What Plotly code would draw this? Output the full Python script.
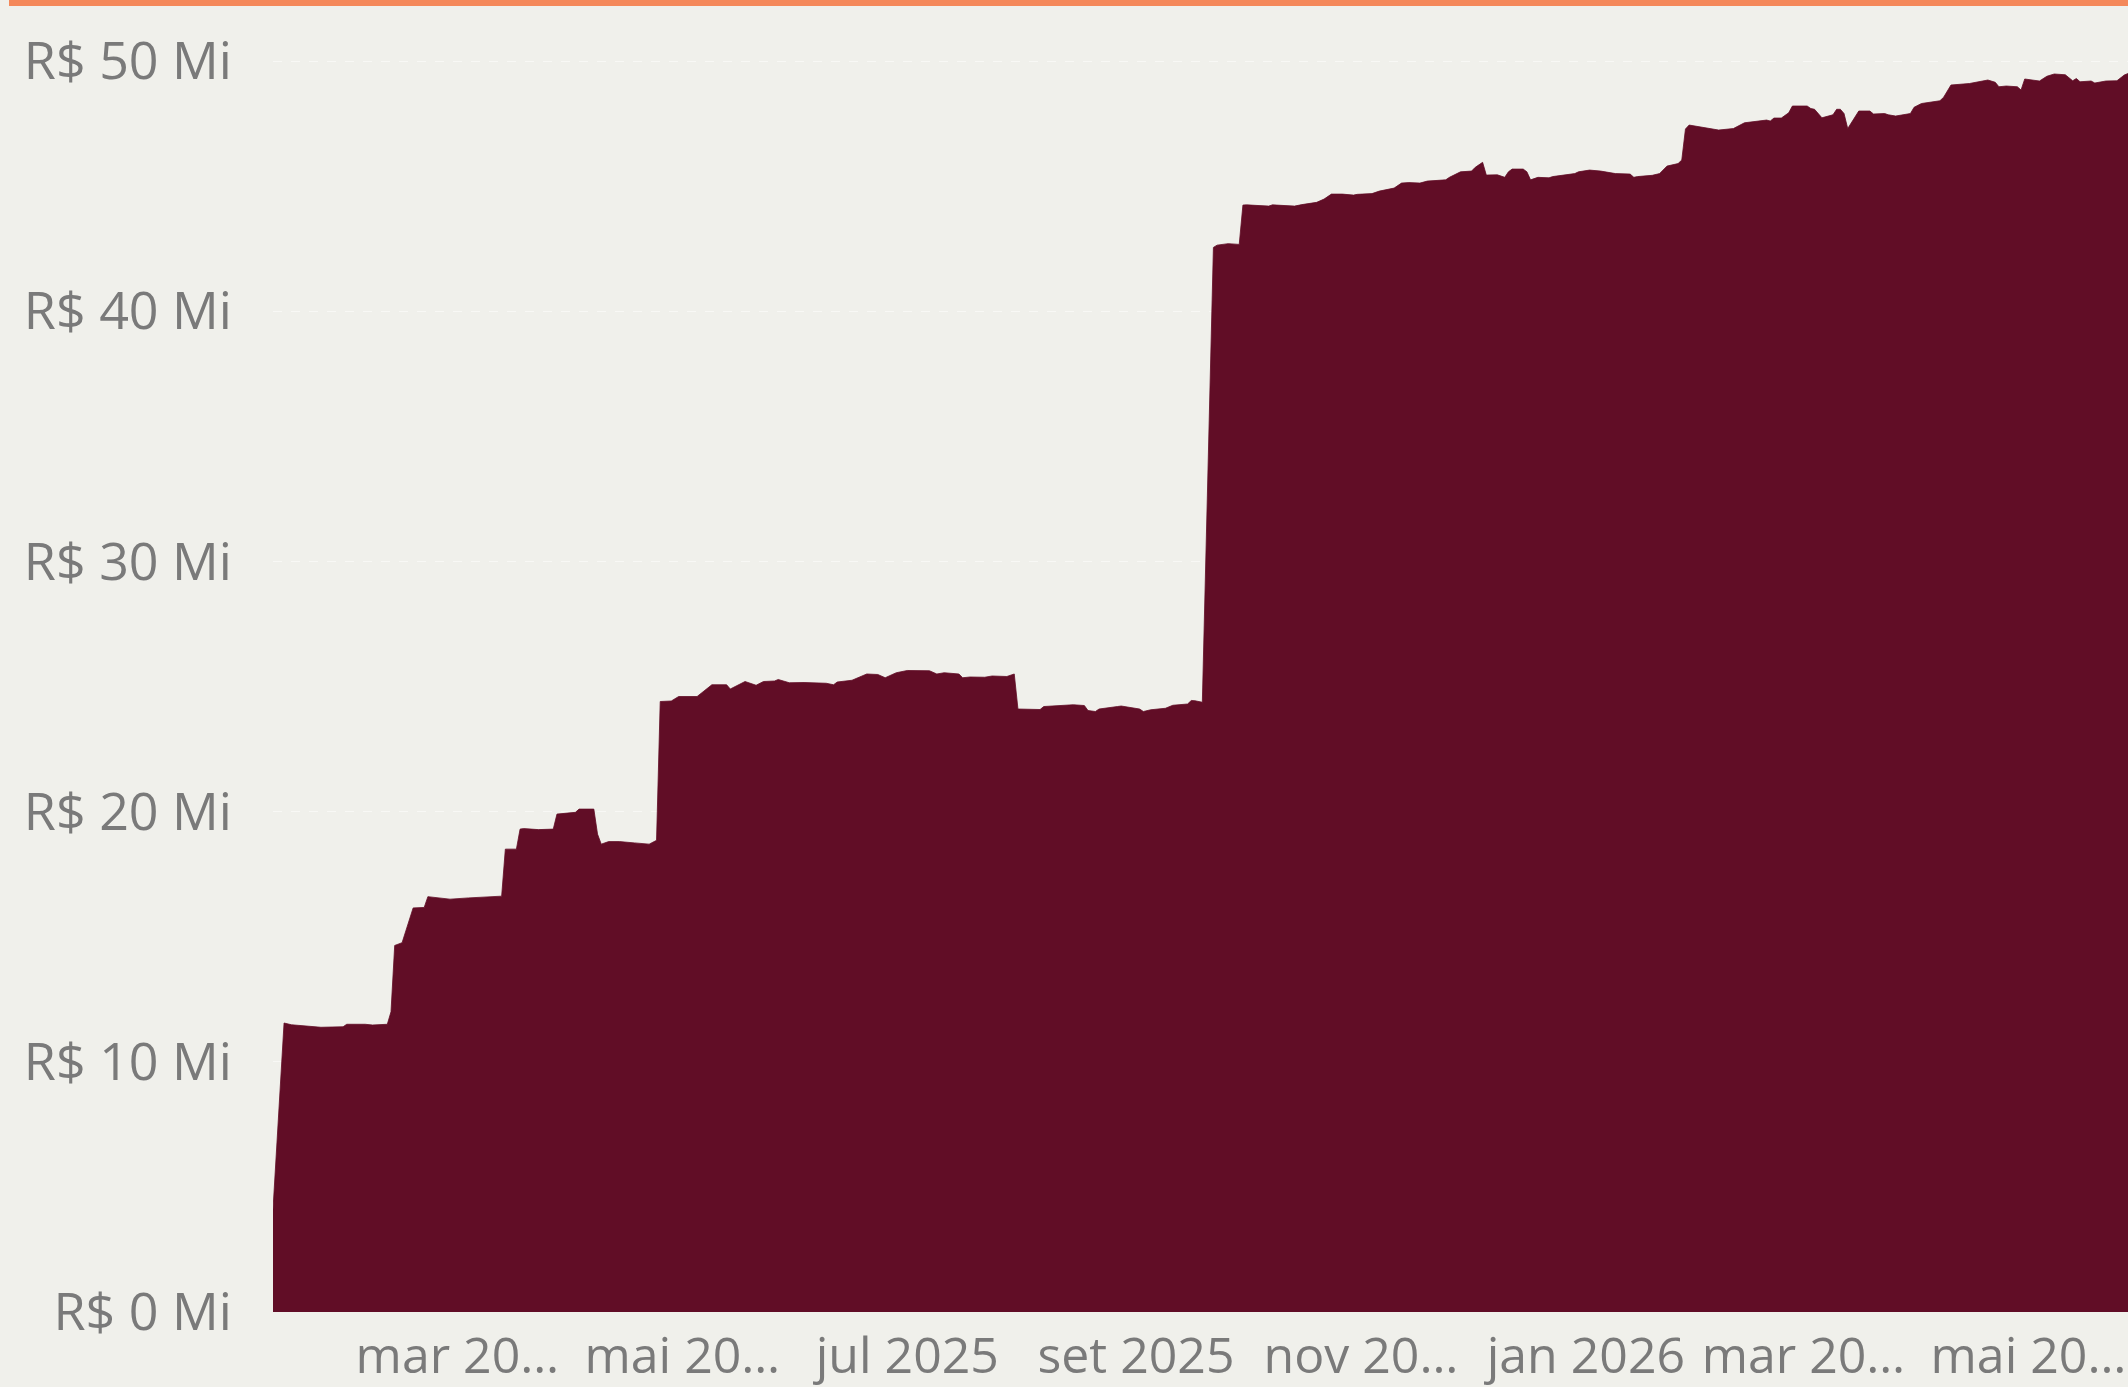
import pandas as pd
import plotly.graph_objects as go

# ---- data ----
start_date = "2025-01-10"
days_since_start = [
    0, 3, 5, 7, 11, 13, 19, 20, 25, 27, 31, 32, 33, 35, 38, 41, 42, 45, 48, 53,
    60, 62, 63, 66, 67, 68, 72, 76, 77, 82, 83, 87, 88, 89, 91, 94, 98, 102, 104, 105,
    108, 110, 115, 119, 123, 124, 128, 131, 133, 136, 137, 140, 144, 150, 152, 153, 157, 161, 164, 166,
    169, 172, 178, 180, 182, 186, 187, 189, 193, 195, 199, 201, 202, 207, 208, 209, 212, 217, 220, 221,
    223, 224, 229, 230, 235, 236, 238, 242, 244, 248, 249, 250, 252, 255, 256, 259, 262, 263, 264, 270,
    271, 277, 279, 283, 285, 287, 290, 293, 294, 298, 300, 304, 306, 308, 311, 313, 318, 319, 322, 325,
    326, 328, 329, 332, 334, 335, 336, 339, 340, 341, 343, 346, 347, 350, 353, 354, 357, 360, 362, 363,
    364, 368, 369, 370, 374, 376, 378, 381, 382, 383, 384, 392, 396, 399, 405, 406, 407, 409, 411, 412,
    416, 417, 418, 420, 423, 424, 425, 426, 427, 430, 433, 434, 437, 438, 440, 444, 445, 447, 452, 453,
    455, 460, 465, 467, 468, 470, 473, 474, 475, 479, 481, 483, 486, 488, 489, 490, 493, 494, 497, 500,
    502, 503,
]
valor_mi = [
    4.1, 11.55, 11.48, 11.45, 11.4, 11.38, 11.4, 11.5, 11.5, 11.47, 11.5, 12.0, 14.65, 14.76, 16.15, 16.17, 16.6, 16.55, 16.5, 16.55,
    16.6, 16.62, 18.5, 18.5, 19.3, 19.32, 19.28, 19.3, 19.9, 19.97, 20.1, 20.1, 19.1, 18.7, 18.8, 18.8, 18.75, 18.7, 18.85, 24.4,
    24.42, 24.6, 24.6, 25.07, 25.07, 24.9, 25.2, 25.05, 25.2, 25.22, 25.28, 25.15, 25.16, 25.13, 25.07, 25.18, 25.25, 25.5, 25.48, 25.35,
    25.55, 25.64, 25.63, 25.5, 25.55, 25.5, 25.35, 25.38, 25.37, 25.42, 25.4, 25.5, 24.1, 24.1, 24.08, 24.2, 24.22, 24.27, 24.24, 24.04,
    24.0, 24.1, 24.2, 24.22, 24.1, 24.0, 24.07, 24.13, 24.25, 24.3, 24.44, 24.43, 24.37, 42.55, 42.64, 42.7, 42.67, 44.24, 44.25, 44.2,
    44.25, 44.2, 44.26, 44.35, 44.48, 44.68, 44.68, 44.64, 44.67, 44.7, 44.8, 44.92, 45.12, 45.14, 45.12, 45.2, 45.25, 45.35, 45.57, 45.6,
    45.75, 45.95, 45.44, 45.45, 45.35, 45.57, 45.68, 45.68, 45.57, 45.25, 45.35, 45.33, 45.38, 45.45, 45.5, 45.57, 45.64, 45.6, 45.55, 45.55,
    45.5, 45.48, 45.35, 45.38, 45.43, 45.5, 45.8, 45.9, 46.04, 47.28, 47.44, 47.24, 47.3, 47.53, 47.64, 47.6, 47.72, 47.72, 47.93, 48.2,
    48.2, 48.1, 48.07, 47.73, 47.85, 48.07, 48.07, 47.9, 47.3, 48.0, 48.0, 47.88, 47.9, 47.85, 47.8, 47.9, 48.15, 48.3, 48.41, 48.55,
    49.04, 49.1, 49.24, 49.15, 48.97, 49.0, 48.97, 48.84, 49.28, 49.2, 49.39, 49.48, 49.45, 49.21, 49.3, 49.17, 49.2, 49.12, 49.2, 49.21,
    49.44, 49.5,
]
assert len(days_since_start) == len(valor_mi), (len(days_since_start), len(valor_mi))

x_tick_dates = ["2025-03-01", "2025-05-01", "2025-07-01", "2025-09-01",
                "2025-11-01", "2026-01-01", "2026-03-01", "2026-05-01"]
x_tick_labels = ["mar 20…", "mai 20…", "jul 2025", "set 2025",
                 "nov 20…", "jan 2026", "mar 20…", "mai 20…"]
y_tick_vals = [0, 10, 20, 30, 40, 50]
y_tick_labels = ["R$ 0 Mi", "R$ 10 Mi", "R$ 20 Mi", "R$ 30 Mi", "R$ 40 Mi", "R$ 50 Mi"]

dates = pd.to_datetime(start_date) + pd.to_timedelta(days_since_start, unit="D")

BG = "#F0F0EB"
FILL = "#610D26"
TXT = "#7A7A7A"
FONT = "Open Sans"

fig = go.Figure()
fig.add_trace(go.Scatter(
    x=dates, y=valor_mi, mode="lines", fill="tozeroy",
    line=dict(color=FILL, width=0.8, shape="linear"),
    fillcolor=FILL, hoverinfo="skip", showlegend=False,
))

W, H = 2128, 1387
ML, MR, MT, MB = 273, 0, 24, 75
plot_h = H - MT - MB

fig.update_layout(
    width=W, height=H,
    margin=dict(l=ML, r=MR, t=MT, b=MB, pad=0),
    paper_bgcolor=BG, plot_bgcolor=BG,
    font=dict(family=FONT, color=TXT, size=50),
    showlegend=False,
    xaxis=dict(
        range=[dates[0], dates[-1]],
        tickmode="array", tickvals=x_tick_dates, ticktext=x_tick_labels,
        showgrid=False, zeroline=False, showline=False,
        ticks="", ticklabelstandoff=10,
        tickfont=dict(family=FONT, size=50, color=TXT),
        fixedrange=True,
    ),
    yaxis=dict(
        range=[0, (1312 - MT) / ((1312 - 61) / 50)],
        tickmode="array", tickvals=y_tick_vals, ticktext=y_tick_labels,
        showgrid=True, gridcolor="#F8F8F5", griddash="dash", gridwidth=1,
        zeroline=False, showline=False,
        ticks="", ticklabelstandoff=40,
        tickfont=dict(family=FONT, size=52, color=TXT),
        fixedrange=True,
    ),
    shapes=[dict(
        type="rect", xref="paper", yref="paper",
        x0=(9 - ML) / (W - ML - MR), x1=1,
        y0=(plot_h + MT - 6) / plot_h,
        y1=(plot_h + MT) / plot_h,
        line=dict(width=0), fillcolor="#F4885A", layer="above",
    )],
)

fig.write_html("out.html", config={"displayModeBar": False, "responsive": False},
               post_script="document.body.style.margin='0';")
